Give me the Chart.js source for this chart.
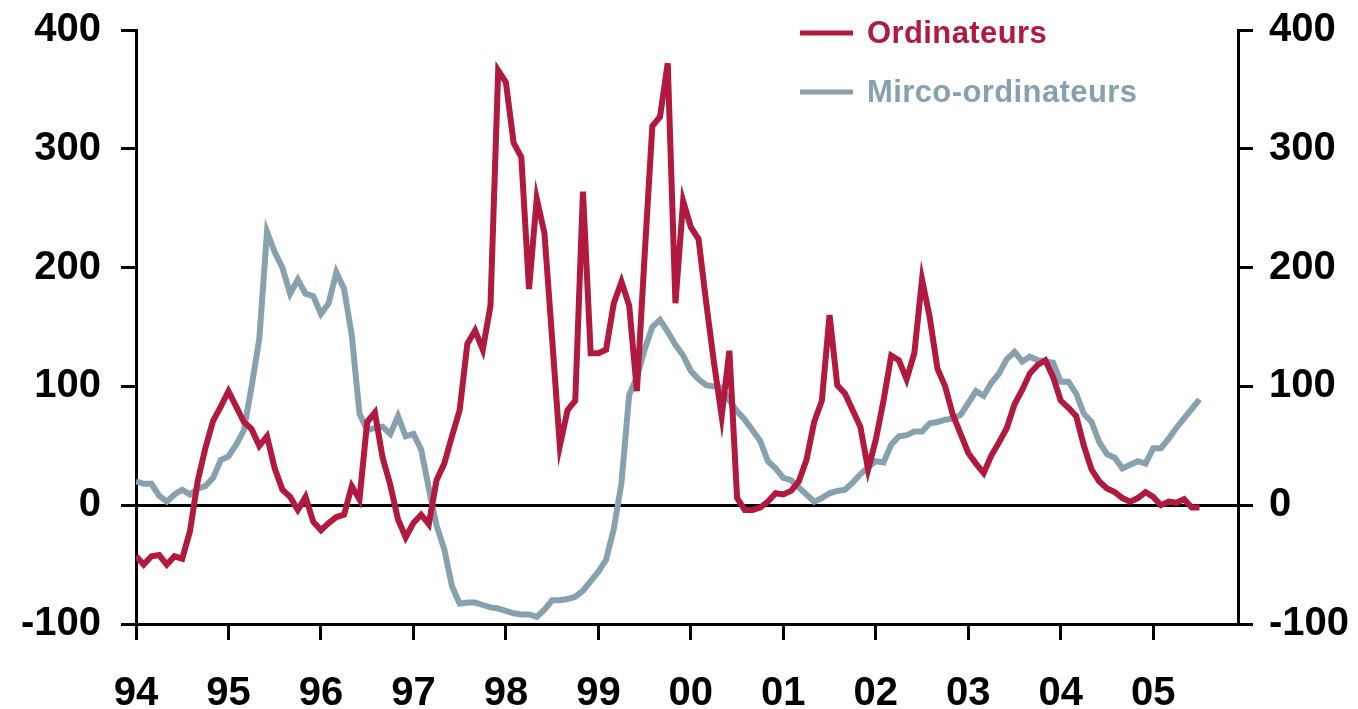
<!DOCTYPE html>
<html>
<head>
<meta charset="utf-8">
<script src="https://cdn.jsdelivr.net/npm/chart.js@4.4.0/dist/chart.umd.min.js"></script>
<style>
  body { margin: 0; background: #fff; }
  #wrap { width: 1358px; height: 709px; }
</style>
</head>
<body>
<div id="wrap"><canvas id="chart"></canvas></div>
<script>
// year tick labels, one tick every 12 months starting Jan 1994
const yearLabels = ['94', '95', '96', '97', '98', '99', '00', '01', '02', '03', '04', '05'];
const seriesNames = ['Ordinateurs', 'Mirco-ordinateurs'];

// monthly values, Jan 1994 .. Jul 2005
const ordinateurs = [
  -43, -50, -43, -42, -50, -43, -45, -22, 20, 48, 71, 83,
  96, 83, 70, 64, 50, 58, 31, 13, 7, -4, 7, -14,
  -21, -15, -10, -8, 16, 5, 70, 78, 40, 17, -12, -27,
  -15, -8, -16, 21, 35, 58, 80, 136, 147, 131, 168, 366,
  356, 305, 293, 182, 258, 229, 140, 50, 80, 88, 264, 128,
  128, 131, 170, 188, 168, 96, 210, 319, 327, 372, 170, 256,
  234, 224, 170, 120, 75, 130, 6, -4, -4, -2, 3, 10,
  9, 12, 20, 38, 70, 88, 160, 101, 94, 80, 66, 30,
  55, 88, 126, 122, 106, 128, 190, 158, 115, 100, 76, 60,
  44, 35, 27, 42, 53, 65, 85, 97, 111, 118, 122, 108,
  88, 82, 75, 50, 30, 20, 14, 11, 6, 3, 6, 11,
  7, 0, 3, 2, 5, -2, -2
];
const microOrdinateurs = [
  20, 18, 18, 8, 3, 9, 13, 9, 14, 16, 23, 38,
  41, 51, 63, 100, 140, 230, 213, 200, 178, 190, 178, 176,
  161, 170, 196, 182, 143, 77, 63, 65, 66, 60, 75, 58,
  60, 47, 14, -17, -37, -68, -83, -82, -82, -84, -86, -87,
  -89, -91, -92, -92, -94, -88, -80, -80, -79, -77, -72, -64,
  -56, -46, -20, 19, 93, 108, 131, 150, 156, 146, 135, 126,
  113, 106, 101, 100, 99, 88, 79, 72, 63, 54, 37, 31,
  23, 21, 15, 9, 3, 6, 10, 12, 13, 19, 26, 32,
  37, 36, 51, 58, 59, 62, 62, 69, 70, 72, 73, 76,
  86, 96, 92, 103, 111, 123, 129, 121, 125, 122, 121, 120,
  104, 104, 94, 77, 70, 53, 43, 40, 31, 34, 37, 35,
  48, 48, 56, 65, 73, 81, 89
];

const RED = '#B11A3E';
const GREY = '#88A1AE';
const FONT = 'Liberation Sans, Arial, sans-serif';

const toPoints = arr => arr.map((v, i) => ({ x: i, y: v }));

// legend drawn at a fixed spot in the top right, like the original
const cornerLegend = {
  id: 'cornerLegend',
  afterDraw(chart) {
    const ctx = chart.ctx;
    const rows = [33, 92];
    ctx.save();
    chart.data.datasets.forEach((ds, i) => {
      const y = rows[i];
      ctx.strokeStyle = ds.borderColor;
      ctx.lineWidth = 5;
      ctx.beginPath();
      ctx.moveTo(800, y);
      ctx.lineTo(853, y);
      ctx.stroke();
      ctx.fillStyle = ds.borderColor;
      ctx.font = `bold 31px ${FONT}`;
      ctx.letterSpacing = '0.4px';
      ctx.textBaseline = 'middle';
      ctx.textAlign = 'left';
      ctx.fillText(ds.label, 867, y + 1);
    });
    ctx.restore();
  }
};

// fixed axis sizes so the plot box lands where the original has it
const yAxis = (position, onChart, width) => ({
  type: 'linear',
  position,
  min: -100,
  max: 400,
  afterFit: axis => {
    axis.width = width;
    axis.paddingTop = 0;
    axis.paddingBottom = 0;
  },
  ticks: {
    stepSize: 100,
    color: '#000',
    font: { family: FONT, size: 40, weight: 'bold' },
    padding: position === 'left' ? 20 : 16
  },
  grid: {
    drawOnChartArea: onChart,
    color: c => (c.tick && c.tick.value === 0 ? '#000' : 'rgba(0,0,0,0)'),
    tickColor: '#000',
    tickLength: 15,
    lineWidth: 3
  },
  border: { display: true, color: '#000', width: 3 }
});

new Chart(document.getElementById('chart'), {
  type: 'line',
  data: {
    datasets: [
      {
        label: seriesNames[0],
        data: toPoints(ordinateurs),
        borderColor: RED,
        borderWidth: 6,
        pointRadius: 0,
        tension: 0,
        borderJoinStyle: 'miter',
        yAxisID: 'y'
      },
      {
        label: seriesNames[1],
        data: toPoints(microOrdinateurs),
        borderColor: GREY,
        borderWidth: 6,
        pointRadius: 0,
        tension: 0,
        borderJoinStyle: 'miter',
        yAxisID: 'y2'
      }
    ]
  },
  options: {
    responsive: true,
    maintainAspectRatio: false,
    animation: false,
    layout: { padding: { left: 15, right: 0, top: 30, bottom: 0 } },
    plugins: {
      legend: { display: false },
      tooltip: { enabled: false }
    },
    scales: {
      x: {
        type: 'linear',
        min: 0,
        max: 143,
        afterBuildTicks: axis => {
          axis.ticks = yearLabels.map((l, i) => ({ value: i * 12 }));
        },
        afterFit: axis => {
          axis.height = 85;
          axis.paddingLeft = 0;
          axis.paddingRight = 0;
        },
        ticks: {
          autoSkip: false,
          maxRotation: 0,
          color: '#000',
          font: { family: FONT, size: 40, weight: 'bold' },
          padding: 30,
          callback: v => yearLabels[Math.round(v / 12)]
        },
        grid: {
          drawOnChartArea: false,
          tickColor: '#000',
          tickLength: 16,
          lineWidth: 3
        },
        border: { display: true, color: '#000', width: 3 }
      },
      y: yAxis('left', true, 121),
      y2: yAxis('right', false, 120)
    }
  },
  plugins: [cornerLegend]
});
</script>
</body>
</html>
